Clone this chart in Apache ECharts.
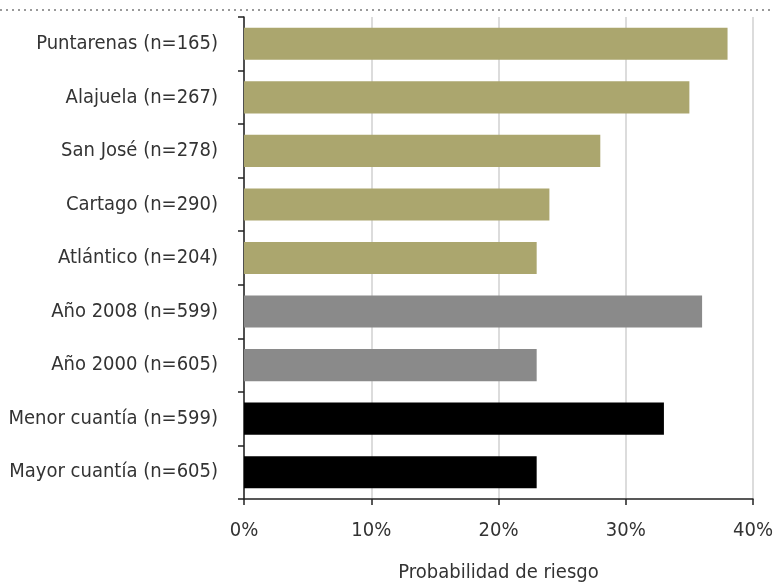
<!DOCTYPE html>
<html>
<head>
<meta charset="utf-8">
<script src="https://cdn.jsdelivr.net/npm/echarts@6/dist/echarts.min.js"></script>
<style>
html,body{margin:0;padding:0;background:#fff;}
#chart{width:773px;height:582px;}
</style>
</head>
<body>
<div id="chart"></div>
<script>
var categories = ["Puntarenas (n=165)", "Alajuela (n=267)", "San José (n=278)", "Cartago (n=290)", "Atlántico (n=204)", "Año 2008 (n=599)", "Año 2000 (n=605)", "Menor cuantía (n=599)", "Mayor cuantía (n=605)"];
var values = [38, 35, 28, 24, 23, 36, 23, 33, 23];
var groups = ["region", "region", "region", "region", "region", "year", "year", "amount", "amount"];
var xTicks = [0, 10, 20, 30, 40];
var xAxisName = "Probabilidad de riesgo";

var groupColor = { region: "#aba66e", year: "#8a8a8a", amount: "#000000" };
var FONT = "'DejaVu Sans Condensed', 'Liberation Sans Narrow', sans-serif";

var chart = echarts.init(document.getElementById('chart'), null, { renderer: 'canvas' });
chart.setOption({
  animation: false,
  backgroundColor: '#ffffff',
  grid: { left: 244, right: 20, top: 17, bottom: 83, containLabel: false, outerBoundsMode: 'none' },
  graphic: [{
    type: 'line',
    shape: { x1: 0, y1: 10, x2: 773, y2: 10 },
    style: { stroke: '#9a9a9a', lineWidth: 2, lineDash: [2, 4] },
    silent: true
  }],
  xAxis: {
    type: 'value',
    min: xTicks[0],
    max: xTicks[xTicks.length - 1],
    interval: xTicks[1] - xTicks[0],
    name: xAxisName,
    nameLocation: 'middle',
    nameGap: 64,
    nameTextStyle: { fontFamily: FONT, fontSize: 20, color: '#333' },
    axisLine: { show: true, lineStyle: { color: '#222', width: 1.5 } },
    axisTick: { show: true, length: 6, lineStyle: { color: '#222', width: 1.5 } },
    axisLabel: { formatter: '{value}%', fontFamily: FONT, fontSize: 20, color: '#333', margin: 22 },
    splitLine: { show: true, lineStyle: { color: '#d0d0d0', width: 1.5 } }
  },
  yAxis: {
    type: 'category',
    data: categories,
    inverse: true,
    axisLine: { show: true, lineStyle: { color: '#222', width: 1.5 } },
    axisTick: { show: true, length: 6, lineStyle: { color: '#222', width: 1.5 } },
    axisLabel: { fontFamily: FONT, fontSize: 20, color: '#333', margin: 26 },
    splitLine: { show: false }
  },
  series: [{
    type: 'bar',
    barWidth: '60%',
    data: values.map(function (v, i) {
      return { value: v, itemStyle: { color: groupColor[groups[i]] } };
    })
  }]
});
</script>
</body>
</html>
